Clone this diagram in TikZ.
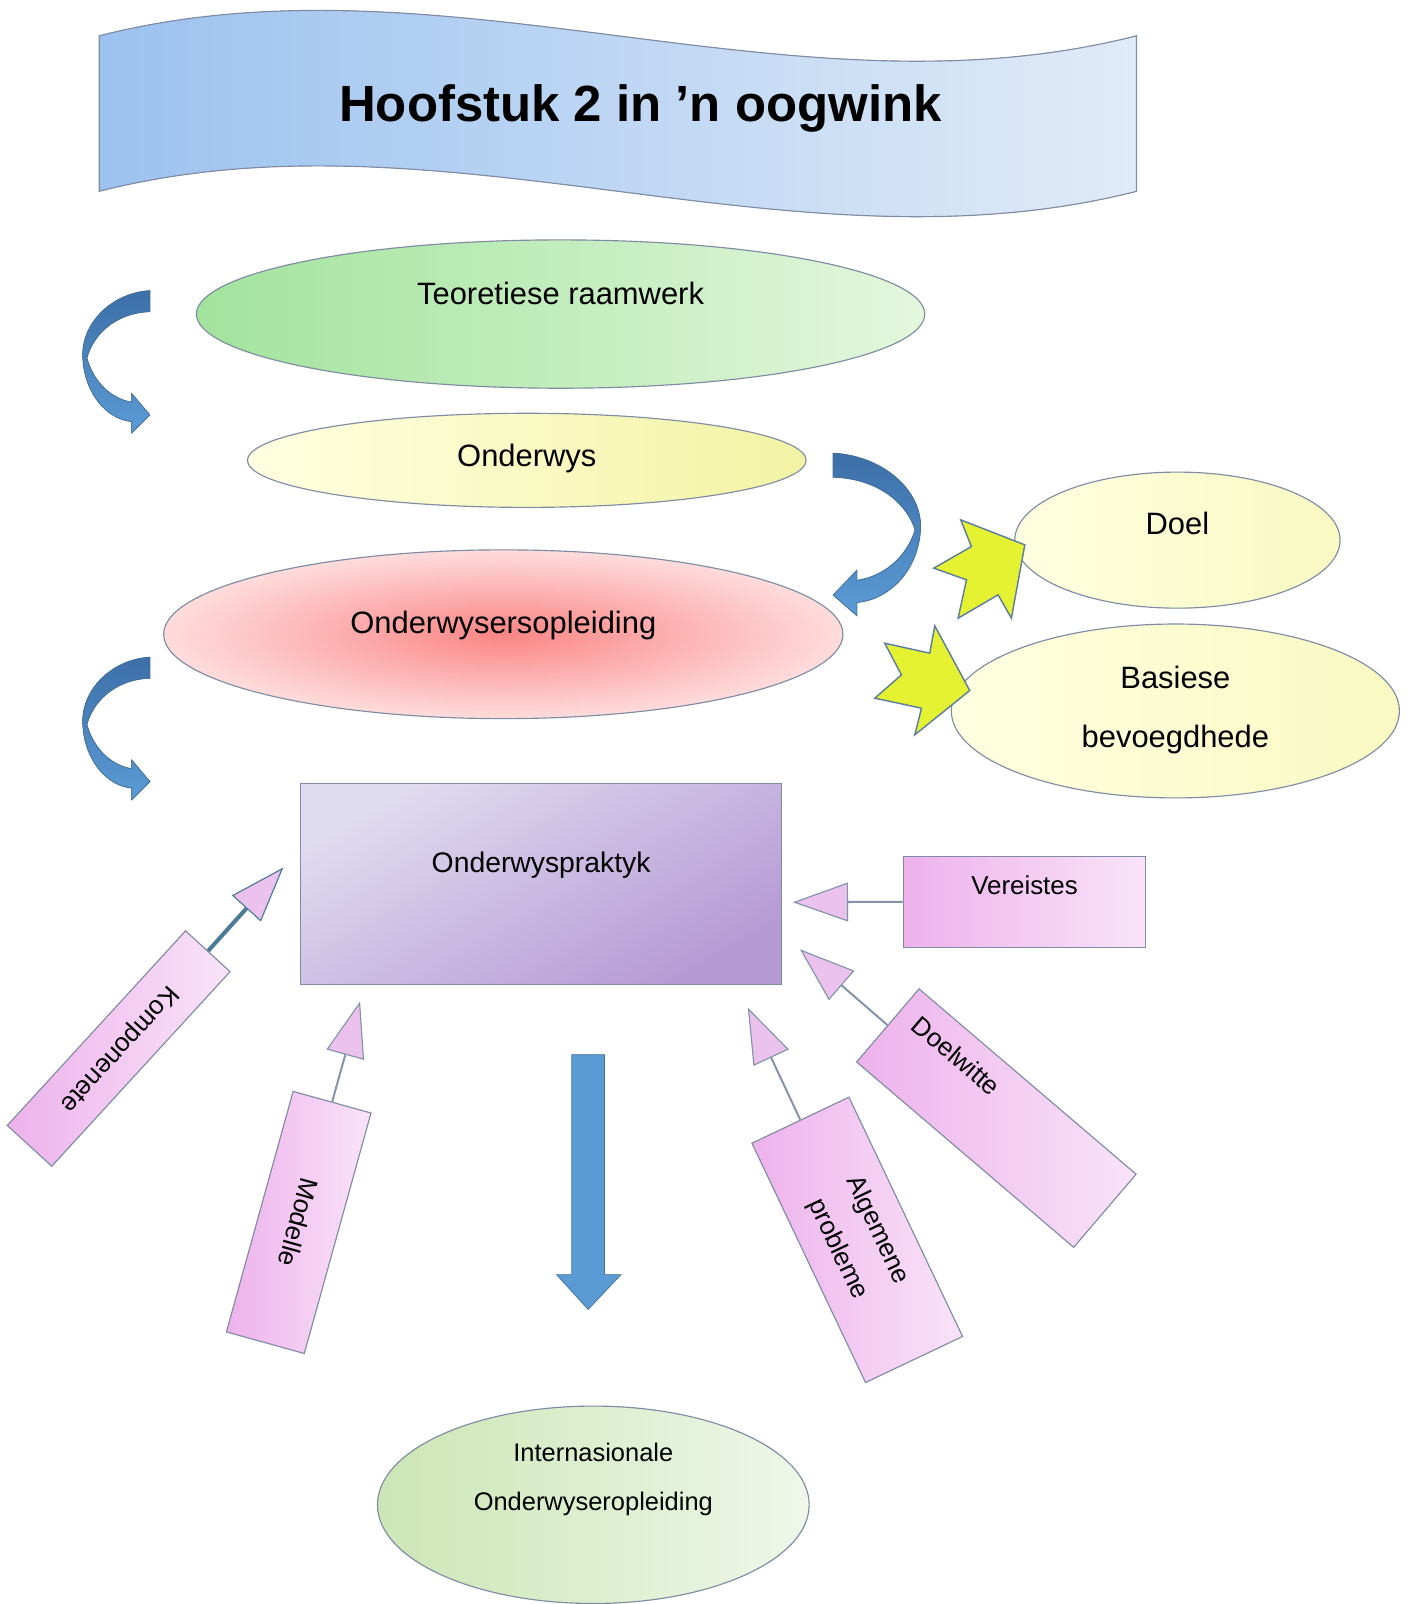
\documentclass[tikz,border=0pt]{standalone}
\usepackage{fontspec}
\setmainfont{Liberation Sans}
\usetikzlibrary{arrows.meta,shapes.geometric,positioning}

\newlength\pxu
\setlength\pxu{0.25mm}

\definecolor{edge}{HTML}{7F8CA3}
\definecolor{bannerA}{HTML}{9CC2EF}
\definecolor{bannerB}{HTML}{E0EBF8}
\definecolor{teoA}{HTML}{A2E39D}
\definecolor{teoB}{HTML}{E3F7DD}
\definecolor{yelA}{HTML}{FFFFE2}
\definecolor{yelB}{HTML}{F3F3A4}
\definecolor{yelC}{HTML}{F9F9C2}
\definecolor{redA}{HTML}{FB8585}
\definecolor{redB}{HTML}{FEDCDC}
\definecolor{grnA}{HTML}{CCE6B6}
\definecolor{grnB}{HTML}{EFF7E9}
\definecolor{prakA}{HTML}{DFDBF0}
\definecolor{prakB}{HTML}{B69AD4}
\definecolor{pinkA}{HTML}{EDB2EC}
\definecolor{pinkB}{HTML}{F9E3F9}
\definecolor{pinktip}{HTML}{EBC2EE}
\definecolor{feedline}{HTML}{8494A8}
\definecolor{kompline}{HTML}{4B7B97}
\definecolor{starfill}{HTML}{E5F232}
\definecolor{staredge}{HTML}{5E7E9E}
\definecolor{bendA}{HTML}{3D6FA8}
\definecolor{bendB}{HTML}{5B9BD5}
\definecolor{bendedge}{HTML}{41719C}

\begin{document}
\begin{tikzpicture}[
    x=0.25mm, y=-0.25mm,
    >=Stealth,
    oval/.style={ellipse, draw=edge, line width=0.8pt, inner sep=0pt},
    body/.style={font=\fontsize{21.5}{40.5}\selectfont, align=center, inner sep=0pt},
    small/.style={font=\fontsize{18}{30.5}\selectfont, align=center, inner sep=0pt},
    pinkbox/.style={rectangle, draw=edge, line width=0.8pt, left color=pinkA, right color=pinkB, inner sep=0pt, small},
    feed/.style={draw=feedline, line width=1.4pt, -{Triangle[length=13.5mm, width=9.5mm, fill=pinktip, line width=0.8pt]}},
    curlfill/.style={draw=bendedge, line width=0.5pt, top color=bendA, bottom color=bendB},
    star/.style={draw=staredge, line width=1pt, fill=starfill, line join=miter},
    curlarrow/.pic={
        \filldraw[curlfill] (0,0) .. controls (-36.6,2) and (-66.6,31) .. (-65.8,64)
            .. controls (-64.6,101) and (-41.6,126) .. (-17.9,128)
            -- (-17.9,139.5) -- (0,121.6) -- (-17.9,100.4) -- (-17.9,109)
            .. controls (-36.6,106) and (-54.6,91) .. (-61.6,66)
            .. controls (-56.6,46) and (-36.6,22) .. (0,20.6) -- cycle;
    },
]
\useasboundingbox (0,0) rectangle (1381,1568);

% Banner
\filldraw[draw=edge, line width=0.8pt, left color=bannerA, right color=bannerB]
    (97,35) .. controls (435,-51) and (773,121) .. (1111,35) -- (1111,187)
    .. controls (773,273) and (435,101) .. (97,187) -- cycle;
\node[font=\bfseries\fontsize{35.4}{44}\selectfont] (title) at (626,106) {Hoofstuk 2 in ’n oogwink};

% Ovals
\node[oval, left color=teoA, right color=teoB, minimum width=712\pxu, minimum height=145\pxu] (teo) at (548,307) {};
\node[body] (teo-t) at ([yshift=5mm]teo.center) {Teoretiese raamwerk};

\node[oval, left color=yelA, right color=yelB, minimum width=546\pxu, minimum height=92\pxu] (ond) at (515,450) {};
\node[body] (ond-t) at ([yshift=0.5mm]ond.center) {Onderwys};

\node[oval, inner color=redA, outer color=redB, minimum width=664\pxu, minimum height=165\pxu] (opl) at (492,620) {};
\node[body] (opl-t) at ([yshift=2.25mm]opl.center) {Onderwysersopleiding};

\node[oval, left color=yelA, right color=yelC, minimum width=318\pxu, minimum height=133\pxu] (doel) at (1151,528) {};
\node[body] (doel-t) at ([yshift=4mm]doel.center) {Doel};

\node[oval, left color=yelA, right color=yelC, minimum width=438\pxu, minimum height=170\pxu] (bas) at (1149,695) {};
\node[body] (bas-t) at ([yshift=0.25mm]bas.center) {Basiese\\bevoegdhede};

\node[oval, left color=grnA, right color=grnB, minimum width=422\pxu, minimum height=193\pxu] (intl) at (580,1471) {};
\node[small, font=\fontsize{17.7}{34}\selectfont] (intl-t) at ([yshift=6.25mm]intl.center) {Internasionale\\Onderwyseropleiding};

% Practice box
\node[rectangle, draw=edge, line width=0.8pt, top color=prakA, bottom color=prakB, shading angle=30,
      minimum width=470\pxu, minimum height=196\pxu] (prak) at (529,864) {};
\node[body, font=\fontsize{19.7}{24}\selectfont] (prak-t) at ([yshift=4.5mm]prak.center) {Onderwyspraktyk};

% Feeding boxes
\node[pinkbox, minimum width=237\pxu, minimum height=89\pxu] (ver) at (1001.5,881.5) {};
\node[small] (ver-t) at ([yshift=4.1mm]ver.center) {Vereistes};
\node[pinkbox, minimum width=258\pxu, minimum height=59\pxu, rotate=-132.5] (komp) at (116,1025) {Komponenete};
\node[pinkbox, minimum width=244\pxu, minimum height=79\pxu, rotate=-105.5] (mod) at (292,1195) {Modelle};
\node[pinkbox, minimum width=259\pxu, minimum height=105\pxu, rotate=-64.6] (alg) at (838,1212) {Algemene\\probleme};
\node[pinkbox, minimum width=279\pxu, minimum height=94\pxu, rotate=-40.5] (doelw) at (974,1093) {};
\node[small, rotate=-40.5] (doelw-t) at (935,1032) {Doelwitte};

% Arrow tips near the practice box
\coordinate (verTip) at (775,882);
\coordinate (kompTip) at (277,848);
\coordinate (modTip) at (352,979);
\coordinate (algTip) at (731,985);
\coordinate (doelwTip) at (782,928);

\draw[feed] (ver.west) -- (verTip);
\draw[feed, draw=kompline, line width=2.8pt] (komp.west) -- (kompTip);
\draw[feed] (mod.west) -- (modTip);
\draw[feed] (alg.west) -- (algTip);
\draw[feed] (doelw.west) -- (doelwTip);

% Curved arrows
\pic at (146.6,284.1) {curlarrow};
\pic at (146.6,642.4) {curlarrow};
\pic[xscale=-1.3, yscale=1.14] at (814.4,443) {curlarrow};

% Notched arrows to Doel and Basiese bevoegdhede
\draw[star] (1001.8,532.6) -- (988.7,604.3) -- (975.7,581.5) -- (936.6,604.3) -- (944.8,566.8)
    -- (912.8,555.4) -- (949.6,534.3) -- (939.2,508.2) -- cycle;
\draw[star] (948,675) -- (894.3,718.3) -- (900.8,692.3) -- (855.2,682.5) -- (881.2,659.7)
    -- (864.9,628.8) -- (908.9,638.5) -- (913.8,611.8) -- cycle;

% Down arrow
\filldraw[fill=bendB, draw=bendedge, line width=0.5pt] (559,1031) -- (591,1031) -- (591,1246) -- (607,1246)
    -- (575,1280) -- (544,1246) -- (559,1246) -- cycle;

\end{tikzpicture}
\end{document}
